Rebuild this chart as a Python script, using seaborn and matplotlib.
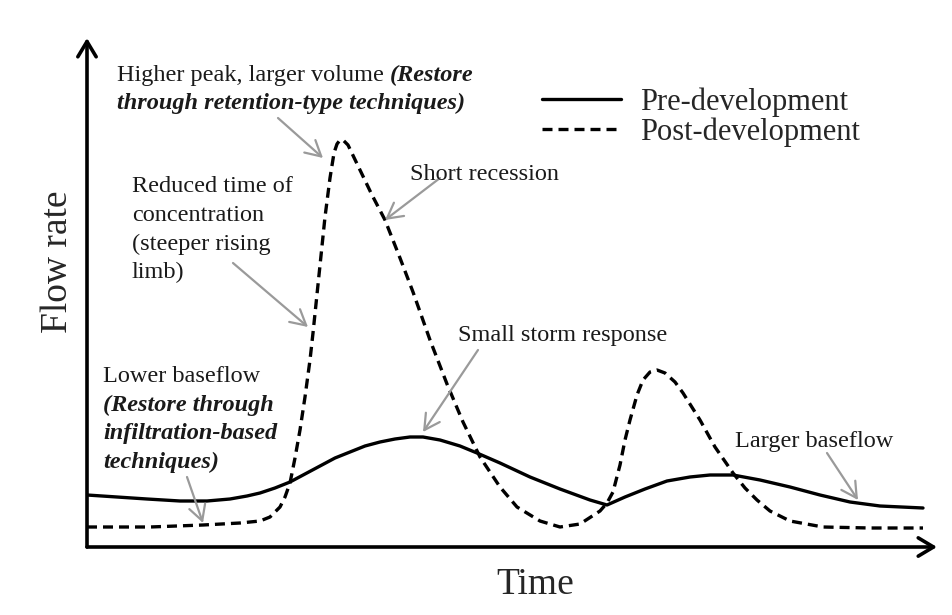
import pandas as pd
import seaborn as sns
import matplotlib.pyplot as plt

# schematic hydrograph: time / flow in arbitrary units (axis runs 0-850 x 0-509)
pre_time = [0, 30, 60, 93, 120, 143, 160, 173, 188, 203, 218, 233, 248, 263, 278, 293, 308,
            323, 336, 353, 373, 390, 413, 443, 473, 503, 520, 538, 558, 580, 603, 623,
            646, 673, 703, 733, 763, 793, 836]
pre_flow = [52, 50, 48, 46, 46, 48, 51, 54, 59, 65, 73, 81, 89, 95, 101, 105, 108,
            110, 110, 107, 101, 94, 84, 70, 58, 47, 42, 50, 58, 66, 70, 72,
            72, 67, 60, 52, 45, 41, 39]

post_time = [0, 63, 116, 153, 173, 183, 193, 198, 203, 208, 213, 218, 223, 226, 232, 238,
             243, 247, 250, 253, 256, 261, 273, 285, 298, 313, 326, 343, 360, 376, 393, 413,
             430, 453, 473, 493, 513, 520, 526, 533, 538, 543, 550, 556, 563, 570, 578,
             588, 596, 613, 628, 646, 658, 670, 683, 703, 736, 783, 836]
post_flow = [20, 20, 22, 24, 26, 30, 40, 50, 64, 89, 117, 150, 187, 214, 272, 330,
             369, 394, 403, 407, 407, 402, 377, 352, 327, 289, 255, 207, 163, 125, 90, 60,
             40, 26, 20, 23, 36, 44, 55, 82, 107, 127, 152, 167, 175, 177, 174,
             165, 154, 127, 100, 74, 59, 47, 36, 26, 20, 19, 19]

series_names = ["Pre-development", "Post-development"]

notes = [
    # (lines, left px, first line centre px)
    (["Reduced time of", "concentration", "(steeper rising", "limb)"], 132, 187),
    (["Short recession"], 410, 175),
    (["Small storm response"], 458, 335),
    (["Lower baseflow"], 103, 377),
    (["Larger baseflow"], 735, 442),
]
bold_notes = [
    (["through retention-type techniques)"], 117, 103),
    (["(Restore through", "infiltration-based", "techniques)"], 103, 405),
]
# arrows: (tail t, tail q) -> (head t, head q)
arrows = [((191, 429), (236, 389)),
          ((146, 284), (221, 220)),
          ((353, 369), (298, 327)),
          ((391, 197), (336, 115)),
          ((100, 70), (116, 24)),
          ((740, 94), (771, 47))]

df = pd.concat([
    pd.DataFrame({"t": pre_time, "q": pre_flow, "series": series_names[0]}),
    pd.DataFrame({"t": post_time, "q": post_flow, "series": series_names[1]}),
])

sns.set_style("white")
plt.rcParams["font.family"] = ["Liberation Serif", "DejaVu Serif"]

W, H = 952, 615
fig = plt.figure(figsize=(W / 100, H / 100), dpi=100)
ax = fig.add_axes([87 / W, (H - 547) / H, 850 / W, 509 / H])

sns.lineplot(data=df, x="t", y="q", style="series", style_order=series_names,
             dashes={series_names[0]: "", series_names[1]: (3, 1.8)},
             color="black", lw=2.4, estimator=None, sort=False, legend=False, ax=ax)

ax.set_xlim(0, 850)
ax.set_ylim(0, 509)
ax.set_xticks([])
ax.set_yticks([])
ax.set_xlabel("")
ax.set_ylabel("")
for s in ax.spines.values():
    s.set_visible(False)
ax.patch.set_alpha(0)

# axes with arrow heads
for end in [(1, 0), (0, 1)]:
    ax.annotate("", xy=end, xytext=(0, 0), xycoords="axes fraction",
                arrowprops=dict(arrowstyle="->,head_length=0.5,head_width=0.3", lw=2.6,
                                color="black", mutation_scale=22, shrinkA=0, shrinkB=0))

def ftext(x, y, s, **kw):
    fig.text(x / W, 1 - y / H, s, va="center", ha="left", fontsize=17.5, color="#1a1a1a", **kw)

ftext(117, 75, "Higher peak, larger volume ")
ftext(390, 75, "(Restore", fontweight="bold", fontstyle="italic")
for lines, x, y in notes:
    for i, line in enumerate(lines):
        ftext(x, y + i * 28.5, line)
for lines, x, y in bold_notes:
    for i, line in enumerate(lines):
        ftext(x, y + i * 28.5, line, fontweight="bold", fontstyle="italic")

for tail, head in arrows:
    ax.annotate("", xy=head, xytext=tail,
                arrowprops=dict(arrowstyle="->,head_length=0.55,head_width=0.3", lw=1.6,
                                color="#9a9a9a", mutation_scale=20, shrinkA=0, shrinkB=0),
                annotation_clip=False)

fig.text(58 / W, 1 - 262 / H, "Flow rate", rotation=90, ha="center", va="center", fontsize=27)
fig.text(535 / W, 1 - 585 / H, "Time", ha="center", va="center", fontsize=27)

ax.legend(ax.lines[:2], series_names, loc="center left",
          bbox_to_anchor=(542 / W, 1 - 117 / H), bbox_transform=fig.transFigure,
          frameon=False, fontsize=22, handlelength=2.6, handletextpad=0.6,
          labelspacing=0.02, borderpad=0, borderaxespad=0)

fig.savefig("out.png", dpi=100)
